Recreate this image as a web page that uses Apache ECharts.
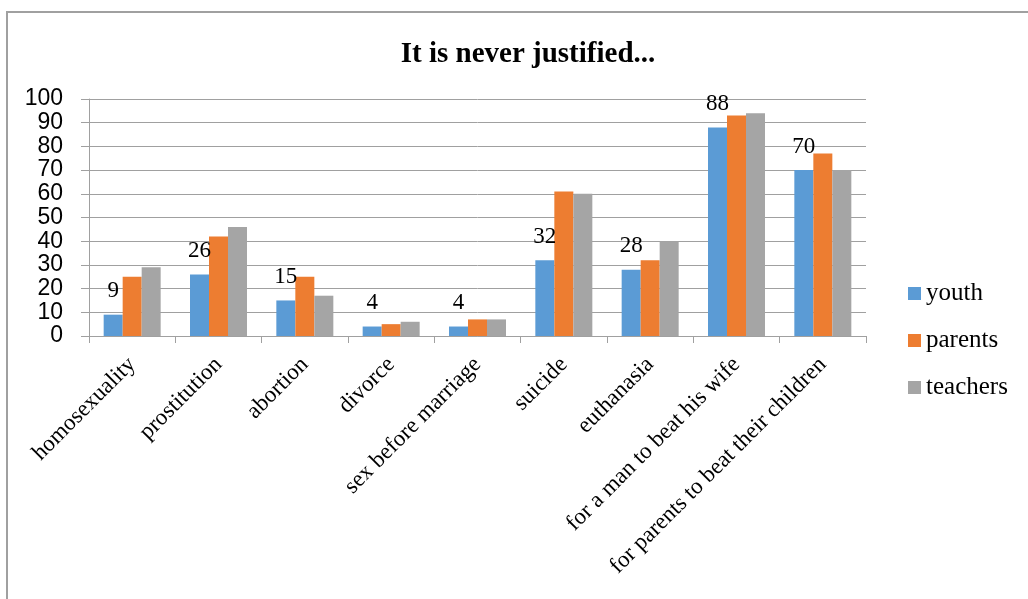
<!DOCTYPE html>
<html>
<head>
<meta charset="utf-8">
<script src="https://cdn.jsdelivr.net/npm/echarts@6/dist/echarts.min.js"></script>
<style>
html,body{margin:0;padding:0;background:#fff;overflow:hidden;}
#frame{position:absolute;left:6px;top:11px;width:1100px;height:700px;border:2px solid #a0a0a0;box-sizing:border-box;}
#chart{position:absolute;left:0;top:0;width:1028px;height:599px;}
</style>
</head>
<body>
<div id="frame"></div>
<div id="chart"></div>
<script>
var titleText = 'It is never justified...';
var categories = ['homosexuality','prostitution','abortion','divorce','sex before marriage','suicide','euthanasia','for a man to beat his wife','for parents to beat their children'];
var seriesNames = ['youth','parents','teachers'];
var youth = [9,26,15,4,4,32,28,88,70];
var parents = [25,42,25,5,7,61,32,93,77];
var teachers = [29,46,17,6,7,60,40,94,70];
var colors = ['#5B9BD5','#ED7D31','#A5A5A5'];

var serif = '"Liberation Serif","Times New Roman",serif';
var sans = '"Liberation Sans",Arial,sans-serif';

var chart = echarts.init(document.getElementById('chart'), null, {renderer:'canvas'});
function mk(name, data, idx, withLabel){
  return {
    name: name, type: 'bar', data: data,
    barWidth: 19, barGap: '0%',
    itemStyle: {color: colors[idx]},
    label: withLabel ? {show:true, position:'top', distance:12, color:'#000', fontFamily:serif, fontSize:23} : {show:false},
    emphasis: {disabled:true}
  };
}
chart.setOption({
  animation:false,
  backgroundColor:'transparent',
  title:{text:titleText, left:523, top:35, textAlign:'center',
    textStyle:{fontFamily:serif, fontWeight:'bold', fontSize:29, color:'#000'}},
  legend:{orient:'vertical', left:903, top:276, itemWidth:13, itemHeight:13, itemGap:22,
    icon:'rect', data:seriesNames,
    textStyle:{fontFamily:serif, fontSize:25, color:'#000'}},
  grid:{left:89, top:99, width:777, height:237, containLabel:false},
  xAxis:{type:'category', data:categories,
    axisLine:{lineStyle:{color:'#a0a0a0', width:1}},
    axisTick:{show:true, alignWithLabel:false, length:7, lineStyle:{color:'#a0a0a0'}},
    axisLabel:{rotate:45, interval:0, margin:25, color:'#000', fontFamily:serif, fontSize:23}},
  yAxis:{type:'value', min:0, max:100, interval:10,
    axisLine:{show:true, lineStyle:{color:'#a0a0a0', width:1}},
    axisTick:{show:true, length:8, lineStyle:{color:'#a0a0a0'}},
    splitLine:{show:true, lineStyle:{color:'#a0a0a0', width:1}},
    axisLabel:{margin:26, color:'#000', fontFamily:sans, fontSize:23}},
  series:[mk(seriesNames[0], youth, 0, true), mk(seriesNames[1], parents, 1, false), mk(seriesNames[2], teachers, 2, false)]
});
</script>
</body>
</html>
